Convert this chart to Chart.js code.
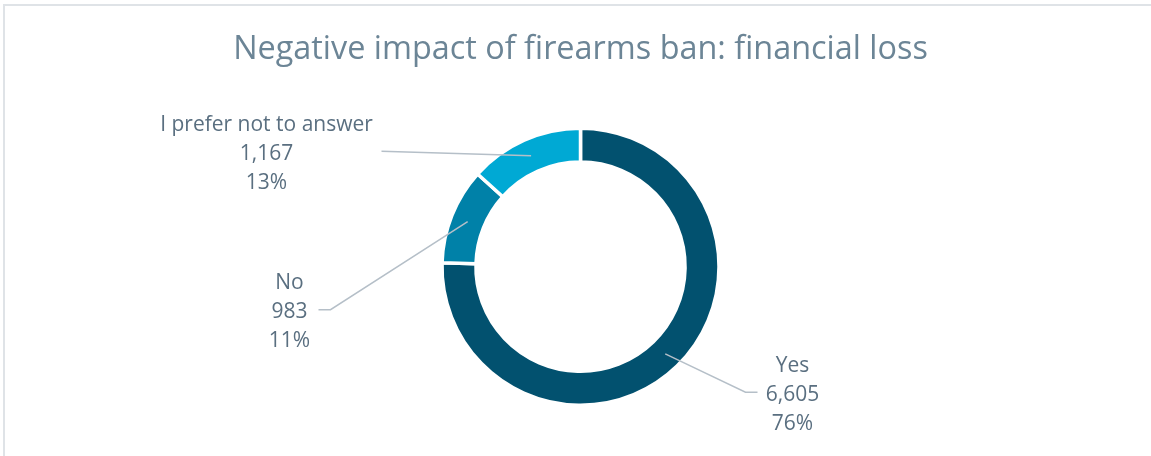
<!DOCTYPE html>
<html>
<head>
<meta charset="utf-8">
<script src="https://cdn.jsdelivr.net/npm/chart.js@4/dist/chart.umd.min.js"></script>
<style>
  html, body { margin: 0; padding: 0; background: #ffffff; }
  #wrap { position: relative; width: 1151px; height: 456px; overflow: hidden; }
  #frame { position: absolute; left: 3px; top: 4px; width: 1200px; height: 500px;
           border-top: 2px solid #dfe3e7; border-left: 2px solid #dfe3e7; box-sizing: border-box; }
  #c { position: absolute; left: 0; top: 0; }
</style>
</head>
<body>
<div id="wrap">
  <div id="frame"></div>
  <canvas id="c" width="1151" height="456"></canvas>
</div>
<script>
// ---- data ----
const categories = ['Yes', 'No', 'I prefer not to answer'];
const counts = [6605, 983, 1167];
const countLabels = ['6,605', '983', '1,167'];
const percentLabels = ['76%', '11%', '13%'];
const colors = ['#02516f', '#0081a8', '#00a9d4'];

// label placement (layout only): text centre x offset and first-baseline y offset from doughnut centre,
// plus leader-line elbow points relative to the doughnut centre
const labelPos = [
  { dx: 212, dy: 105.5, line: [[165, 125.5], [177, 125.5]] },
  { dx: -291, dy: 22, line: [[-250, 43], [-262, 43]] },
  { dx: -314, dy: -135.5, line: [[-199, -115.5]] }
];

const labelPlugin = {
  id: 'outLabels',
  afterDatasetsDraw(chart) {
    const ctx = chart.ctx;
    const meta = chart.getDatasetMeta(0);
    ctx.save();
    meta.data.forEach((arc, i) => {
      const p = arc.getProps(['x', 'y', 'startAngle', 'endAngle', 'innerRadius', 'outerRadius'], true);
      const mid = (p.startAngle + p.endAngle) / 2;
      const r = (p.innerRadius + p.outerRadius) / 2;
      const sx = p.x + Math.cos(mid) * r;
      const sy = p.y + Math.sin(mid) * r;
      const lp = labelPos[i];
      // leader line
      ctx.strokeStyle = '#b5bfc8';
      ctx.lineWidth = 1.5;
      ctx.beginPath();
      ctx.moveTo(sx, sy);
      lp.line.forEach(pt => ctx.lineTo(p.x + pt[0], p.y + pt[1]));
      ctx.stroke();
      // text
      ctx.fillStyle = '#5a6f80';
      ctx.font = '21px "Open Sans"';
      ctx.textAlign = 'center';
      ctx.textBaseline = 'alphabetic';
      const tx = p.x + lp.dx;
      const ty = p.y + lp.dy;
      [categories[i], countLabels[i], percentLabels[i]].forEach((t, k) => {
        ctx.fillText(t, tx, ty + k * 29);
      });
    });
    ctx.restore();
  }
};

new Chart(document.getElementById('c'), {
  type: 'doughnut',
  data: {
    labels: categories,
    datasets: [{
      data: counts,
      backgroundColor: colors,
      borderColor: '#ffffff',
      borderWidth: 3.5,
      hoverOffset: 0
    }]
  },
  options: {
    responsive: false,
    animation: false,
    events: [],
    radius: 138.5,
    cutout: '75.5%',
    layout: { padding: { left: 10, right: 0, top: 0, bottom: 0 } },
    plugins: {
      legend: { display: false },
      tooltip: { enabled: false },
      title: {
        display: true,
        text: 'Negative impact of firearms ban: financial loss',
        color: '#6c8596',
        font: { family: '"Open Sans"', size: 32.4, weight: 'normal', lineHeight: 1.2 },
        padding: { top: 30, bottom: 8.5 }
      }
    }
  },
  plugins: [labelPlugin]
});
</script>
</body>
</html>
